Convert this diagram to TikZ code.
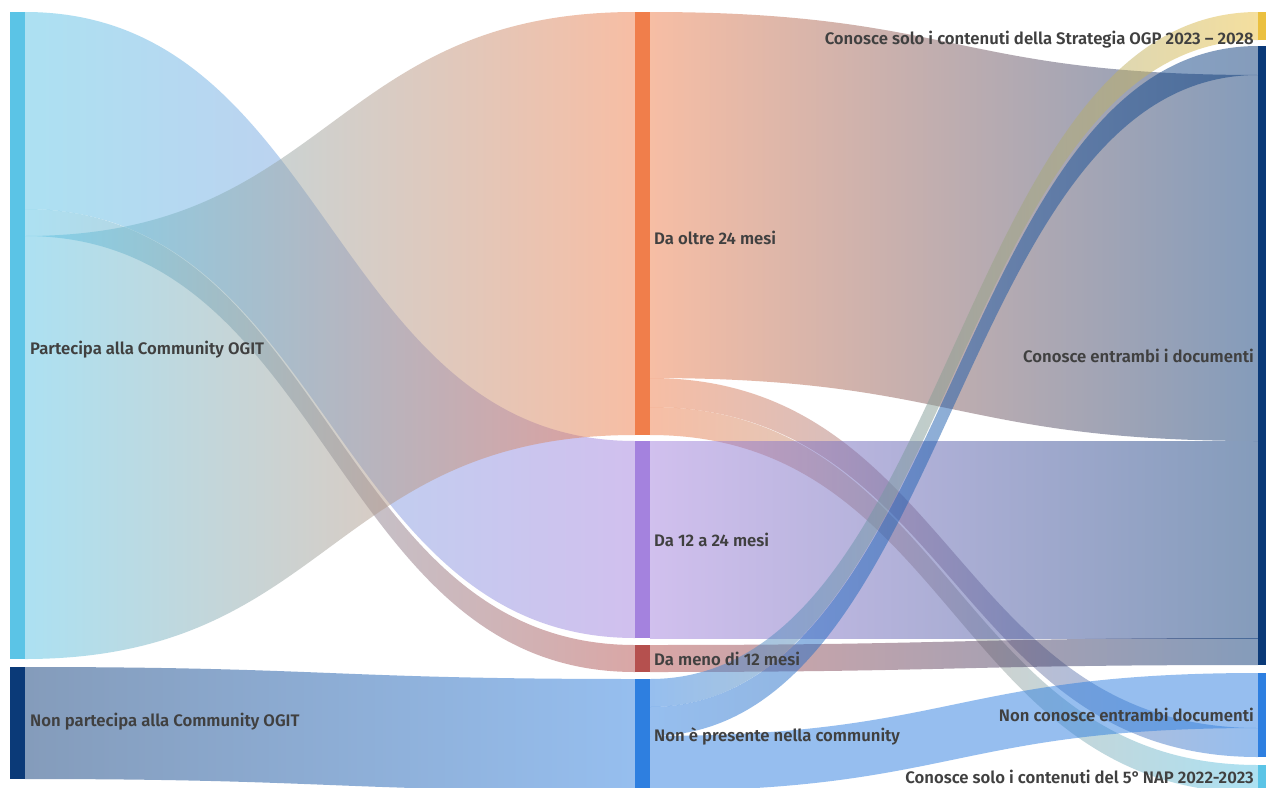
\documentclass[tikz,border=0pt]{standalone}
\usepackage{fontspec}
\setmainfont{Fira Sans}[BoldFont={Fira Sans SemiBold}]
\usetikzlibrary{calc}
\definecolor{cLight}{HTML}{5BC4E6}
\definecolor{cNavy}{HTML}{0B3A78}
\definecolor{cOrange}{HTML}{F07E4B}
\definecolor{cPurple}{HTML}{A482DE}
\definecolor{cRed}{HTML}{B5504E}
\definecolor{cBlue}{HTML}{2E7FE0}
\definecolor{cYellow}{HTML}{EBC03F}
\definecolor{cText}{HTML}{404040}
% band: src node, src offset, tgt node, tgt offset, width, colour 1, colour 2
\newcommand\sankeyband[7]{%
  \path[bandstyle,left color=#6,right color=#7]
    let \p1=($(#1.north east)+(0,#2)$), \p2=($(#3.north west)+(0,#4)$),
        \n1={(\x1+\x2)/2}, \n2={#5pt} in
    (\p1) .. controls (\n1,\y1) and (\n1,\y2) .. (\p2)
    -- (\x2,\y2-\n2) .. controls (\n1,\y2-\n2) and (\n1,\y1-\n2) .. (\x1,\y1-\n2) -- cycle;}
\begin{document}
\begin{tikzpicture}[x=1pt,y=-1pt,
  bar/.style={draw=none,rectangle,inner sep=0pt,outer sep=0pt,minimum width=15pt,anchor=north west},
  bandstyle/.style={fill opacity=0.5,draw=none},
  lab/.style={font=\bfseries\fontsize{16.7}{20}\selectfont,text=cText,inner sep=0pt}]
\clip (0,0) rectangle (1266,787);
\fill[white] (0,0) rectangle (1266,787);
% nodes (bars)
\node[bar,fill=cLight,minimum height=647pt] (part) at (10,12) {};
\node[bar,fill=cNavy,minimum height=112pt] (nonpart) at (10,667) {};
\node[bar,fill=cOrange,minimum height=423pt] (oltre) at (635,12) {};
\node[bar,fill=cPurple,minimum height=197pt] (dodici) at (635,441) {};
\node[bar,fill=cRed,minimum height=27pt] (meno) at (635,645) {};
\node[bar,fill=cBlue,minimum height=112pt] (nonpres) at (635,679) {};
\node[bar,fill=cYellow,minimum height=28pt] (strat) at (1258,12) {};
\node[bar,fill=cNavy,minimum height=619pt] (entrambi) at (1258,46) {};
\node[bar,fill=cBlue,minimum height=84pt] (nonconosce) at (1258,673) {};
\node[bar,fill=cLight,minimum height=28pt] (nap) at (1258,765) {};
% links
\sankeyband{part}{0}{dodici}{0}{197}{cLight}{cPurple}
\sankeyband{part}{197}{meno}{0}{27}{cLight}{cRed}
\sankeyband{part}{224}{oltre}{0}{423}{cLight}{cOrange}
\sankeyband{nonpart}{0}{nonpres}{0}{112}{cNavy}{cBlue}
\sankeyband{oltre}{0}{entrambi}{29}{366}{cOrange}{cNavy}
\sankeyband{oltre}{366}{nonconosce}{55}{29}{cOrange}{cBlue}
\sankeyband{oltre}{395}{nap}{0}{28}{cOrange}{cLight}
\sankeyband{dodici}{0}{entrambi}{395}{197}{cPurple}{cNavy}
\sankeyband{meno}{0}{entrambi}{592}{27}{cRed}{cNavy}
\sankeyband{nonpres}{0}{strat}{0}{28}{cBlue}{cYellow}
\sankeyband{nonpres}{28}{entrambi}{0}{29}{cBlue}{cNavy}
\sankeyband{nonpres}{57}{nonconosce}{0}{55}{cBlue}{cBlue}
% redraw bars on top
\foreach \n/\c in {part/cLight,nonpart/cNavy,oltre/cOrange,dodici/cPurple,meno/cRed,nonpres/cBlue,strat/cYellow,entrambi/cNavy,nonconosce/cBlue,nap/cLight}
  \fill[\c] (\n.north west) rectangle (\n.south east);
% labels
\node[lab,anchor=west] (lPart) at (30,350) {Partecipa alla Community OGIT};
\node[lab,anchor=west] (lNonpart) at (30,722) {Non partecipa alla Community OGIT};
\node[lab,anchor=west] (lOltre) at (654,238) {Da oltre 24 mesi};
\node[lab,anchor=west] (lDodici) at (654,540) {Da 12 a 24 mesi};
\node[lab,anchor=west] (lMeno) at (654,659) {Da meno di 12 mesi};
\node[lab,anchor=west] (lNonpres) at (654,736) {Non è presente nella community};
\node[lab,anchor=east] (lStrat) at (1254,40) {Conosce solo i contenuti della Strategia OGP 2023 – 2028};
\node[lab,anchor=east] (lEntr) at (1254,356) {Conosce entrambi i documenti};
\node[lab,anchor=east] (lNonc) at (1254,715) {Non conosce entrambi documenti};
\node[lab,anchor=east] (lNap) at (1254,777) {Conosce solo i contenuti del 5°\,NAP 2022-2023};
\end{tikzpicture}
\end{document}
